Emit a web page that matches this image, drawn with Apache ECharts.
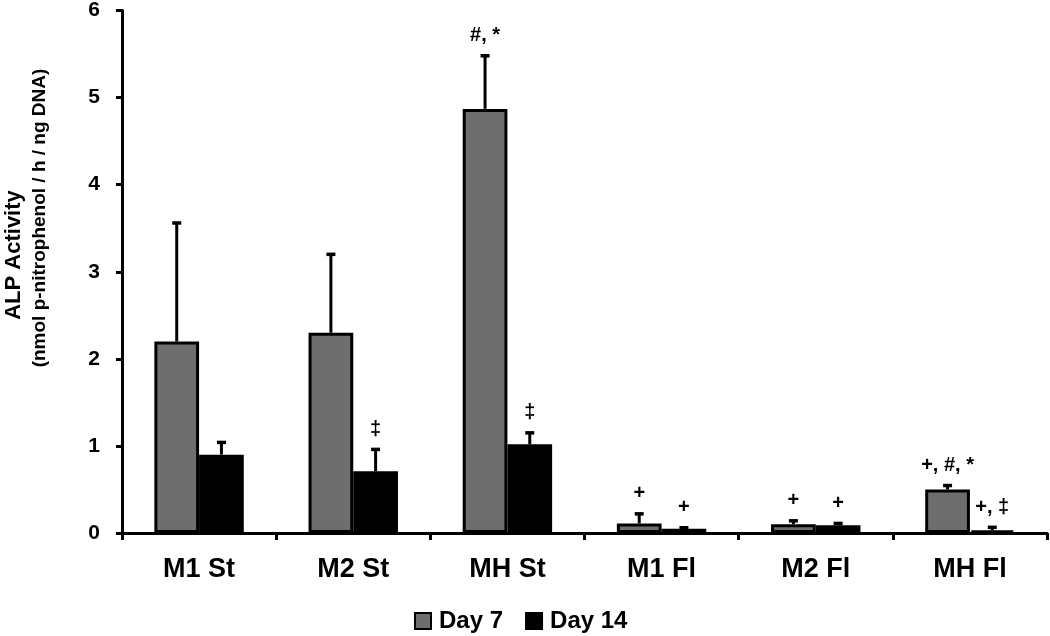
<!DOCTYPE html>
<html>
<head>
<meta charset="utf-8">
<script src="https://cdn.jsdelivr.net/npm/echarts@6/dist/echarts.min.js"></script>
<style>
html,body{margin:0;padding:0;background:#fff;}
#chart{width:1050px;height:636px;}
</style>
</head>
<body>
<div id="chart"></div>
<script>
// ---- data ----
const categories = ['M1 St', 'M2 St', 'MH St', 'M1 Fl', 'M2 Fl', 'MH Fl'];
const seriesNames = ['Day 7', 'Day 14'];
const day7Values = [2.20, 2.30, 4.87, 0.11, 0.10, 0.50];
const day7ErrTop = [3.56, 3.20, 5.48, 0.22, 0.14, 0.545];
const day14Values = [0.90, 0.71, 1.02, 0.05, 0.09, 0.03];
const day14ErrTop = [1.04, 0.96, 1.15, 0.06, 0.11, 0.065];
const day7Marks = ['', '', '#, *', '+', '+', '+, #, *'];
const day14Marks = ['', '\u2021', '\u2021', '+', '+', '+, \u2021'];
const yTicks = [0, 1, 2, 3, 4, 5, 6];

const FONT = "'Liberation Sans', Arial, sans-serif";
const CAT_GAP = 0.42;

function errSeries(name, values, tops, marks, side) {
  return {
    name: name + ' err',
    type: 'custom',
    z: 5,
    silent: true,
    data: values.map((v, i) => [i, v, tops[i], marks[i]]),
    renderItem: function (params, api) {
      const idx = api.value(0);
      const base = api.coord([idx, api.value(1)]);
      const top = api.coord([idx, api.value(2)]);
      const band = api.size([1, 0])[0];
      const bw = band * (1 - CAT_GAP) / 2;
      const x = base[0] + side * bw / 2;
      const children = [
        { type: 'line', shape: { x1: x, y1: base[1], x2: x, y2: top[1] },
          style: { stroke: '#000', lineWidth: 3 } },
        { type: 'line', shape: { x1: x - 4.5, y1: top[1], x2: x + 4.5, y2: top[1] },
          style: { stroke: '#000', lineWidth: 3.5 } }
      ];
      const mark = marks[idx];
      if (mark) {
        children.push({ type: 'text', x: x, y: top[1] - 10,
          style: { text: mark, fill: '#000', font: 'bold 20px ' + FONT,
                   textAlign: 'center', textVerticalAlign: 'bottom' } });
      }
      return { type: 'group', children: children };
    }
  };
}

const chart = echarts.init(document.getElementById('chart'));
chart.setOption({
  animation: false,
  backgroundColor: '#fff',
  grid: { left: 122, right: 3, top: 8, bottom: 103, containLabel: false },
  legend: {
    data: seriesNames,
    left: 409, top: 604,
    itemWidth: 16, itemHeight: 16, itemGap: 22,
    icon: 'rect',
    textStyle: { fontFamily: FONT, fontWeight: 'bold', fontSize: 24, color: '#000', padding: [0, 0, 0, 3] }
  },
  xAxis: {
    type: 'category',
    data: categories,
    axisLine: { lineStyle: { color: '#000', width: 3 } },
    axisTick: { show: true, length: 7, lineStyle: { color: '#000', width: 3 } },
    axisLabel: { fontFamily: FONT, fontWeight: 'bold', fontSize: 27, color: '#000', margin: 23 }
  },
  yAxis: {
    type: 'value',
    min: yTicks[0], max: yTicks[yTicks.length - 1], interval: 1,
    axisLine: { show: true, lineStyle: { color: '#000', width: 3 } },
    axisTick: { show: true, length: 6, lineStyle: { color: '#000', width: 3 } },
    splitLine: { show: false },
    axisLabel: { fontFamily: FONT, fontWeight: 'bold', fontSize: 21, color: '#000', margin: 22 }
  },
  graphic: [
    { type: 'text', x: 14, y: 255, rotation: Math.PI / 2,
      style: { text: 'ALP Activity', font: 'bold 22px ' + FONT, fill: '#000',
               textAlign: 'center', textVerticalAlign: 'middle' } },
    { type: 'text', x: 40, y: 218, rotation: Math.PI / 2,
      style: { text: '(nmol p-nitrophenol / h / ng DNA)', font: 'bold 19px ' + FONT, fill: '#000',
               textAlign: 'center', textVerticalAlign: 'middle' } }
  ],
  series: [
    { name: 'Day 7', type: 'bar', data: day7Values, barGap: '0%', barCategoryGap: (CAT_GAP * 100) + '%',
      itemStyle: { color: '#6e6e6e', borderColor: '#000', borderWidth: 3 } },
    { name: 'Day 14', type: 'bar', data: day14Values, barGap: '0%', barCategoryGap: (CAT_GAP * 100) + '%',
      itemStyle: { color: '#000', borderColor: '#000', borderWidth: 3 } },
    errSeries('Day 7', day7Values, day7ErrTop, day7Marks, -1),
    errSeries('Day 14', day14Values, day14ErrTop, day14Marks, 1)
  ]
});
</script>
</body>
</html>
